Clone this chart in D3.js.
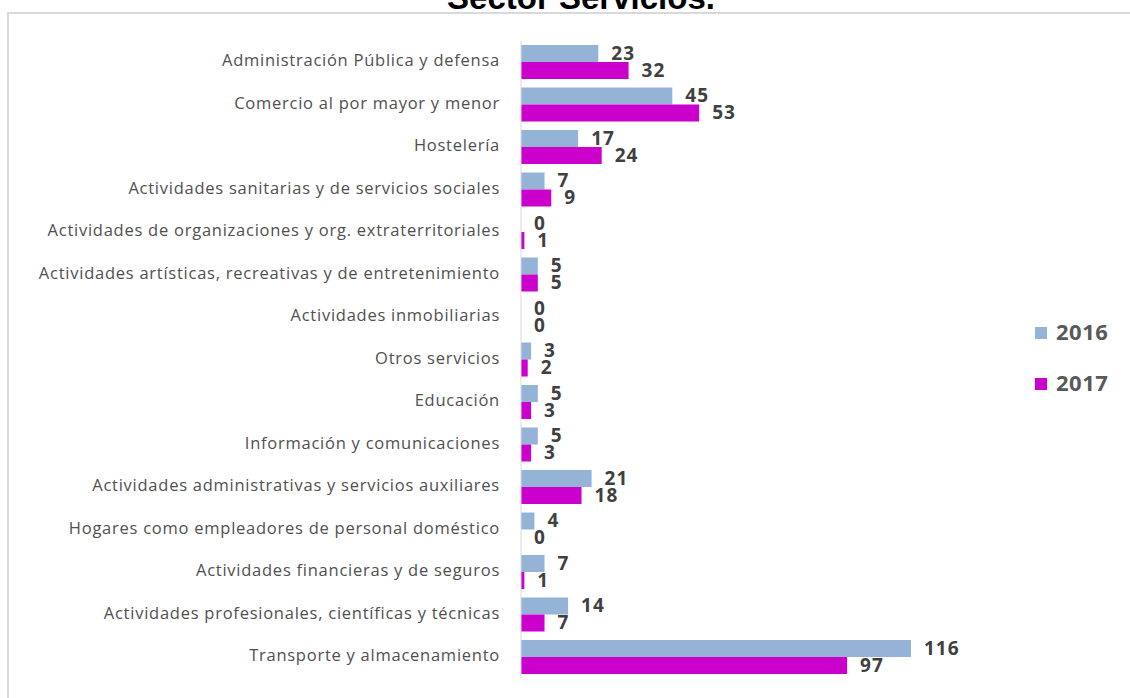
<!DOCTYPE html>
<html>
<head>
<meta charset="utf-8">
<script src="https://cdn.jsdelivr.net/npm/d3@7"></script>
<style>
  body { margin: 0; background: #fff; }
  svg { display: block; }
</style>
</head>
<body>
<svg id="chart" width="1130" height="698"></svg>
<script>
// data
const categories = [
  "Administración Pública y defensa",
  "Comercio al por mayor y menor",
  "Hostelería",
  "Actividades sanitarias y de servicios sociales",
  "Actividades de organizaciones y org. extraterritoriales",
  "Actividades artísticas, recreativas y de entretenimiento",
  "Actividades inmobiliarias",
  "Otros servicios",
  "Educación",
  "Información y comunicaciones",
  "Actividades administrativas y servicios auxiliares",
  "Hogares como empleadores de personal doméstico",
  "Actividades financieras y de seguros",
  "Actividades profesionales, científicas y técnicas",
  "Transporte y almacenamiento"
];
const values2016 = [23, 45, 17, 7, 0, 5, 0, 3, 5, 5, 21, 4, 7, 14, 116];
const values2017 = [32, 53, 24, 9, 1, 5, 0, 2, 3, 3, 18, 0, 1, 7, 97];
const seriesNames = ["2016", "2017"];
const seriesColors = ["#95b3d7", "#cc00cc"];

const svg = d3.select("#chart");

// frame (only top and left edges are visible in the crop)
svg.append("line").attr("x1", 8).attr("x2", 1130).attr("y1", 13).attr("y2", 13)
  .attr("stroke", "#d9d9d9").attr("stroke-width", 2);
svg.append("line").attr("x1", 8).attr("x2", 8).attr("y1", 12).attr("y2", 698)
  .attr("stroke", "#d9d9d9").attr("stroke-width", 2);

// title, cut at the top
svg.append("text")
  .attr("x", 581).attr("y", 9)
  .attr("text-anchor", "middle")
  .style("font-family", "'Liberation Sans', Arial, sans-serif")
  .style("font-weight", "bold")
  .style("font-size", "33px")
  .style("fill", "#000")
  .text("Sector Servicios.");

const xScale = d3.scaleLinear().domain([0, 140]).range([521, 521 + 140 * 3.362]);
const yScale = d3.scaleBand().domain(categories).range([40.75, 678.25]);
const barH = yScale.bandwidth() * 0.4;

// bars
const series = [values2016, values2017];
series.forEach((vals, si) => {
  const g = svg.append("g");
  g.selectAll("rect")
    .data(categories)
    .join("rect")
    .attr("x", xScale(0))
    .attr("y", (d) => yScale(d) + yScale.bandwidth() / 2 - barH + si * barH)
    .attr("width", (d, i) => xScale(vals[i]) - xScale(0))
    .attr("height", barH)
    .attr("fill", seriesColors[si]);

  g.selectAll("text")
    .data(categories)
    .join("text")
    .attr("x", (d, i) => xScale(vals[i]) + 13)
    .attr("y", (d) => yScale(d) + yScale.bandwidth() / 2 - barH / 2 + si * barH + 1)
    .attr("dominant-baseline", "middle")
    .style("font-family", "'Open Sans', sans-serif")
    .style("font-weight", "bold")
    .style("font-size", "19px")
    .style("letter-spacing", "1px")
    .style("fill", "#404040")
    .text((d, i) => vals[i]);
});

// axis line
svg.append("line")
  .attr("x1", xScale(0)).attr("x2", xScale(0))
  .attr("y1", yScale.range()[0]).attr("y2", yScale.range()[1])
  .attr("stroke", "#d9d9d9").attr("stroke-width", 1);

// category labels
svg.append("g")
  .selectAll("text")
  .data(categories)
  .join("text")
  .attr("x", 500)
  .attr("y", (d) => yScale(d) + yScale.bandwidth() / 2)
  .attr("text-anchor", "end")
  .attr("dominant-baseline", "middle")
  .style("font-family", "'Open Sans', sans-serif")
  .style("font-size", "16.5px")
  .style("letter-spacing", "0.75px")
  .style("fill", "#505050")
  .text((d) => d);

// legend
const legend = svg.append("g");
seriesNames.forEach((name, i) => {
  const y = 333 + i * 51;
  legend.append("rect").attr("x", 1035).attr("y", y - 6).attr("width", 12).attr("height", 12)
    .attr("fill", seriesColors[i]);
  legend.append("text").attr("x", 1056).attr("y", y + 1)
    .attr("dominant-baseline", "middle")
    .style("font-family", "'Open Sans', sans-serif")
    .style("font-weight", "bold")
    .style("font-size", "22px")
    .style("letter-spacing", "0.5px")
    .style("fill", "#595959")
    .text(name);
});
</script>
</body>
</html>
